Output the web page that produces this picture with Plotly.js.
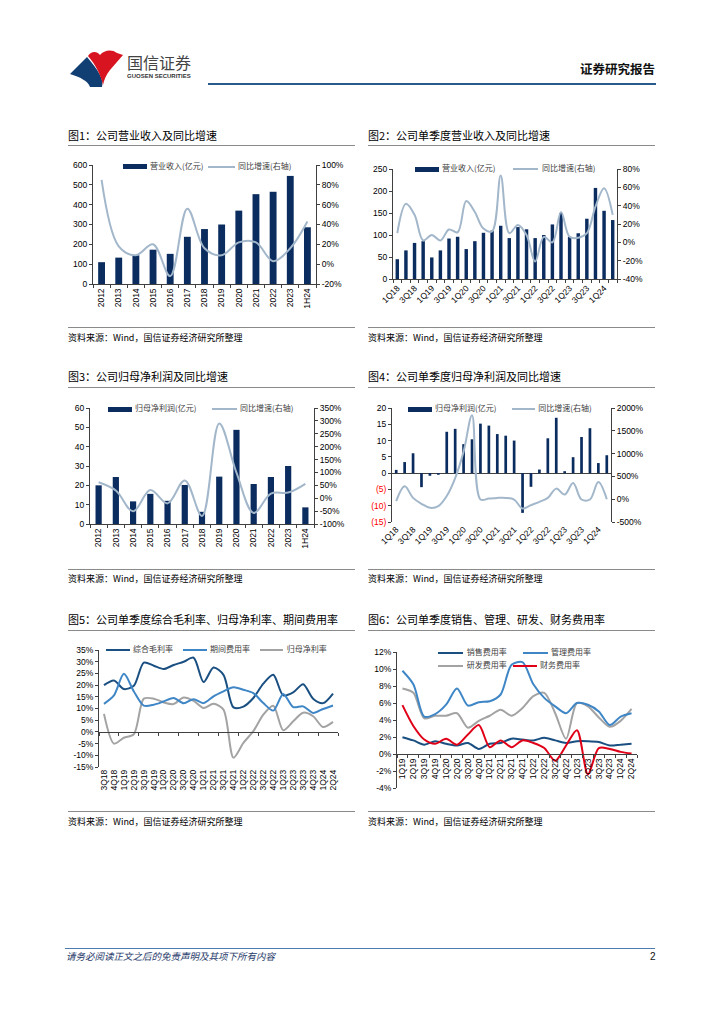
<!DOCTYPE html>
<html><head><meta charset="utf-8">
<script src="https://cdn.plot.ly/plotly-3.0.1.min.js"></script>
<style>
body{margin:0;width:724px;height:1024px;position:relative;background:#fff;font-family:"Noto Sans CJK SC","Noto Sans",sans-serif;overflow:hidden}
.abs{position:absolute;white-space:nowrap;line-height:1}
.hl{position:absolute;height:0}
.chart{position:absolute;width:298px}
</style></head><body>

<svg class="abs" style="left:68px;top:50px" width="58" height="38" viewBox="0 0 58 38">
  <path d="M2,24 L19,7 C24,13 29,19 32,25 C34,29 35,33 34,37 L22,37 C20,31 12,27 2,24 Z" fill="#123f73"/>
  <path d="M20,6 C23,1 29,1 32,5 C36,0 44,-1 49,3 L55,5 L42,20 C38,25 36,30 35,35 C33,26 28,15 20,6 Z" fill="#d7141f"/>
</svg>
<div class="abs" style="left:127px;top:54px;font-size:16px;color:#444">国信证券</div>
<div class="abs" style="left:127px;top:73px;font-size:6px;font-weight:bold;color:#333;font-family:'Liberation Sans',Arial,sans-serif">GUOSEN SECURITIES</div>
<div class="abs" style="left:580px;top:63px;font-size:12.5px;font-weight:bold;color:#111">证券研究报告</div>
<div class="hl" style="left:208px;top:83px;width:448px;border-top:2px solid #285a8c"></div>

<div id="c1" class="chart"></div>
<div id="c2" class="chart"></div>
<div id="c3" class="chart"></div>
<div id="c4" class="chart"></div>
<div id="c5" class="chart"></div>
<div id="c6" class="chart"></div>

<div class="hl" style="left:65px;top:948px;width:590px;border-top:1px solid #4a7ab0"></div>
<div class="abs" style="left:66px;top:952px;font-size:9.5px;font-style:italic;color:#1f3a6a">请务必阅读正文之后的免责声明及其项下所有内容</div>
<div class="abs" style="left:650px;top:952px;font-size:10px;color:#111;font-family:'Liberation Sans',Arial,sans-serif">2</div>

<script>
// ---------- DATA ----------
const c1Years = ['2012','2013','2014','2015','2016','2017','2018','2019','2020','2021','2022','2023','1H24'];
const c1Revenue = [110,133,145,173,152,238,277,300,370,453,465,545,286];
const c1Yoy = [85,18,9,20,-12,56,16,9,22,22,3,16,43];
const c1LeftTicks = [0,100,200,300,400,500,600];
const c1RightTicks = [-20,0,20,40,60,80,100];

const c2Quarters = ['1Q18','2Q18','3Q18','4Q18','1Q19','2Q19','3Q19','4Q19','1Q20','2Q20','3Q20','4Q20','1Q21','2Q21','3Q21','4Q21','1Q22','2Q22','3Q22','4Q22','1Q23','2Q23','3Q23','4Q23','1Q24','2Q24'];
const c2Revenue = [45,65,82,86,49,65,92,96,68,86,105,110,121,93,118,113,93,100,124,150,96,104,137,207,155,134];
const c2Yoy = [10,42,30,2,8,2,14,11,45,33,15,12,73,10,19,8,-21,6,0,33,6,5,10,39,59,30];
const c2AxisLabels = ['1Q18','','3Q18','','1Q19','','3Q19','','1Q20','','3Q20','','1Q21','','3Q21','','1Q22','','3Q22','','1Q23','','3Q23','','1Q24',''];
const c2LeftTicks = [0,50,100,150,200,250];
const c2RightTicks = [-40,-20,0,20,40,60,80];

const c3Years = ['2012','2013','2014','2015','2016','2017','2018','2019','2020','2021','2022','2023','1H24'];
const c3Profit = [20,24.3,11.7,15.6,12,20.2,6.3,24.5,48.7,20.7,24.3,30,8.6];
const c3Yoy = [62,30,-51,32,-20,69,-69,290,99,-57,18,22,56];
const c3LeftTicks = [0,10,20,30,40,50,60];
const c3RightTicks = [-100,-50,0,50,100,150,200,250,300,350];

const c4Quarters = c2Quarters;
const c4Profit = [1.0,3.4,6.1,-4.3,-0.8,-0.5,12.7,13.6,8.9,10.4,15.2,14.6,12.0,11.5,10.0,-12.2,-4.2,1.1,10.7,17.0,0.6,4.9,11.1,13.8,3.1,5.5];
const c4Yoy = [-43,283,29,-100,-188,-152,70,464,1043,1840,-5,14,29,29,-7,-203,-130,-58,29,232,101,355,-7,-7,377,0];
const c4AxisLabels = c2AxisLabels;
const c4LeftTicks = [-15,-10,-5,0,5,10,15,20];
const c4RightTicks = [-500,0,500,1000,1500,2000];

const c5Quarters = ['3Q18','4Q18','1Q19','2Q19','3Q19','4Q19','1Q20','2Q20','3Q20','4Q20','1Q21','2Q21','3Q21','4Q21','1Q22','2Q22','3Q22','4Q22','1Q23','2Q23','3Q23','4Q23','1Q24','2Q24'];
const c5Gross = [20,22,18.3,19.7,29.6,28.3,26.9,28.6,30,31.7,21.3,27.5,24.4,10.5,10.8,14.5,20.6,24.4,15.6,16.9,20.4,14.2,12.3,16.4];
const c5Expense = [12,15.6,24.8,17.3,11.2,11.6,13,14.5,12.2,14,12.3,15.2,17.3,19.1,18,16.6,12.3,9.1,16.2,10.6,10.9,8.1,9.8,11.3];
const c5NetMargin = [7.7,-5,-2.5,-1,14.2,14.2,12.6,11.9,14.7,13.3,10.2,12,9.5,-11,-4.7,0.3,7.4,11.2,0.7,4.5,8.2,6.7,2.1,4.3];
const c5Ticks = [-15,-10,-5,0,5,10,15,20,25,30,35];

const c6Quarters = ['1Q19','2Q19','3Q19','4Q19','1Q20','2Q20','3Q20','4Q20','1Q21','2Q21','3Q21','4Q21','1Q22','2Q22','3Q22','4Q22','1Q23','2Q23','3Q23','4Q23','1Q24','2Q24'];
const c6Selling = [1.98,1.6,1.1,1.5,1.2,1.0,1.3,0.6,1.2,1.3,1.8,1.7,1.6,1.9,1.6,1.3,1.5,1.5,1.4,1.0,1.1,1.2];
const c6Admin = [9.8,8.2,4.4,4.7,5.8,7.7,5.7,6.1,6.2,7.0,10.5,10.8,8.2,6.6,5.6,4.8,6.0,5.8,5.0,3.4,4.4,4.8];
const c6RnD = [7.7,7.2,4.2,4.5,4.5,4.8,3.1,3.9,4.5,5.2,4.5,5.4,6.8,7.2,4.8,1.8,6.0,5.6,4.3,3.2,3.9,5.3];
const c6Finance = [5.75,3.3,1.7,1.2,1.8,1.1,2.3,3.4,0.8,1.6,0.8,1.6,1.3,0.7,-0.8,1.0,2.8,-2.4,0.7,0.6,0.25,0.05];
const c6Ticks = [-4,-2,0,2,4,6,8,10,12];

// ---------- STYLE ----------
const NAVY = '#0b2c5f', YOY = '#a3b7cb';
const DARK = '#1a4f82', MID = '#3f86c6', GRAY = '#a3a3a3', RED = '#e00017';
const TF = 'Liberation Sans, Arial, sans-serif';
const pct = v => String(v) + '%';

function ax(extra){
  return Object.assign({showgrid:false, zeroline:false, showline:true, linecolor:'#404040', linewidth:1,
    ticks:'outside', ticklen:3, tickcolor:'#404040', tickwidth:1,
    tickfont:{family:TF, size:8.5, color:'#000'}, fixedrange:true}, extra);
}
function place(id, bx0, by0, bx1, by1, px0, py0, px1, py1){
  const el = document.getElementById(id);
  el.style.left = bx0 + 'px'; el.style.top = by0 + 'px';
  el.style.width = (bx1 - bx0) + 'px'; el.style.height = (by1 - by0) + 'px';
  return {width: bx1 - bx0, height: by1 - by0,
    margin:{l: px0 - bx0, r: bx1 - px1, t: py0 - by0, b: by1 - py1, pad:0},
    paper_bgcolor:'rgba(0,0,0,0)', plot_bgcolor:'rgba(0,0,0,0)', showlegend:false,
    font:{family:TF, size:8.5, color:'#000'}};
}
const cfg = {staticPlot:true, displayModeBar:false};
function addEl(html){ document.body.insertAdjacentHTML('beforeend', html); }
function hline(x0, x1, y, color, w){ addEl(`<div class="hl" style="left:${x0}px;top:${y}px;width:${x1-x0}px;border-top:${w}px solid ${color}"></div>`); }
function text(x, yc, s, size, extra){ addEl(`<div class="abs" style="left:${x}px;top:${yc - size/2 - 1}px;font-size:${size}px;${extra||''}">${s}</div>`); }
function legBar(x0, x1, yc, c){ addEl(`<div class="abs" style="left:${x0}px;top:${yc-2.5}px;width:${x1-x0}px;height:5px;background:${c}"></div>`); }
function legLine(x0, x1, yc, c){ addEl(`<div class="abs" style="left:${x0}px;top:${yc-1}px;width:${x1-x0}px;height:2px;background:${c}"></div>`); }
function legText(x, yc, s){ text(x, yc, s, 8, 'color:#404040'); }

// ---------- PANEL FRAMES ----------
const panels = [
  {x0:68, x1:355, title:'图1：公司营业收入及同比增速', ty:136.7, tl:145, sl:326.7, sy:338.3},
  {x0:368, x1:655, title:'图2：公司单季度营业收入及同比增速', ty:136.7, tl:145, sl:326.7, sy:338.3},
  {x0:68, x1:355, title:'图3：公司归母净利润及同比增速', ty:377.7, tl:386.7, sl:569, sy:579.3},
  {x0:368, x1:655, title:'图4：公司单季度归母净利润及同比增速', ty:377.7, tl:386.7, sl:569, sy:579.3},
  {x0:68, x1:355, title:'图5：公司单季度综合毛利率、归母净利率、期间费用率', ty:620.7, tl:629.7, sl:811.3, sy:822.3},
  {x0:368, x1:655, title:'图6：公司单季度销售、管理、研发、财务费用率', ty:620.7, tl:629.7, sl:811.3, sy:822.3}
];
panels.forEach(p => {
  text(p.x0, p.ty, p.title, 11, 'color:#000');
  hline(p.x0, p.x1, p.tl, '#8a8a8a', 1.5);
  hline(p.x0, p.x1, p.sl, '#8a8a8a', 1.5);
  text(p.x0, p.sy, '资料来源：Wind，国信证券经济研究所整理', 9, 'color:#000');
});

// ---------- CHART 1 ----------
(function(){
  const L = place('c1', 62, 147, 360, 326, 93.3, 165, 316, 284);
  L.bargap = 0.6;
  L.xaxis = ax({type:'category', tickson:'boundaries', tickangle:-90});
  L.yaxis = ax({range:[0,600], tickvals:c1LeftTicks, ticktext:c1LeftTicks.map(String)});
  L.yaxis2 = ax({range:[-20,100], overlaying:'y', side:'right', tickvals:c1RightTicks, ticktext:c1RightTicks.map(pct)});
  Plotly.newPlot('c1', [
    {type:'bar', x:c1Years, y:c1Revenue, marker:{color:NAVY}, yaxis:'y'},
    {type:'scatter', mode:'lines', x:c1Years, y:c1Yoy, yaxis:'y2', line:{color:YOY, width:2, shape:'spline', smoothing:1}}
  ], L, cfg);
  legBar(123.3, 147.3, 166.7, NAVY); legText(150, 166.7, '营业收入(亿元)');
  legLine(208, 235, 166.7, YOY); legText(238, 166.7, '同比增速(右轴)');
})();

// ---------- CHART 2 ----------
(function(){
  const L = place('c2', 362, 147, 660, 326, 393.3, 169.3, 616.7, 278.7);
  L.bargap = 0.6;
  L.xaxis = ax({type:'category', tickson:'boundaries', tickangle:-45, tickvals:c2Quarters, ticktext:c2AxisLabels});
  L.yaxis = ax({range:[0,250], tickvals:c2LeftTicks, ticktext:c2LeftTicks.map(String)});
  L.yaxis2 = ax({range:[-40,80], overlaying:'y', side:'right', tickvals:c2RightTicks, ticktext:c2RightTicks.map(pct)});
  Plotly.newPlot('c2', [
    {type:'bar', x:c2Quarters, y:c2Revenue, marker:{color:NAVY}, yaxis:'y'},
    {type:'scatter', mode:'lines', x:c2Quarters, y:c2Yoy, yaxis:'y2', line:{color:YOY, width:2, shape:'spline', smoothing:1}}
  ], L, cfg);
  legBar(415, 439.3, 169.3, NAVY); legText(442, 169.3, '营业收入(亿元)');
  legLine(513, 538, 169.3, YOY); legText(542, 169.3, '同比增速(右轴)');
})();

// ---------- CHART 3 ----------
(function(){
  const L = place('c3', 62, 389, 360, 569, 90, 407.7, 314, 524.3);
  L.bargap = 0.64;
  L.xaxis = ax({type:'category', tickson:'boundaries', tickangle:-90});
  L.yaxis = ax({range:[0,60], tickvals:c3LeftTicks, ticktext:c3LeftTicks.map(String)});
  L.yaxis2 = ax({range:[-100,350], overlaying:'y', side:'right', tickvals:c3RightTicks, ticktext:c3RightTicks.map(pct)});
  Plotly.newPlot('c3', [
    {type:'bar', x:c3Years, y:c3Profit, marker:{color:NAVY}, yaxis:'y'},
    {type:'scatter', mode:'lines', x:c3Years, y:c3Yoy, yaxis:'y2', line:{color:YOY, width:2, shape:'spline', smoothing:1}}
  ], L, cfg);
  legBar(108.3, 131.7, 409.3, NAVY); legText(135, 409.3, '归母净利润(亿元)');
  legLine(211.7, 236.7, 409.3, YOY); legText(240, 409.3, '同比增速(右轴)');
})();

// ---------- CHART 4 ----------
(function(){
  const L = place('c4', 362, 389, 660, 569, 391.7, 407.7, 610.7, 522.3);
  L.bargap = 0.68;
  L.xaxis = ax({type:'category', showline:false, ticks:'', tickangle:-45, tickvals:c4Quarters, ticktext:c4AxisLabels});
  L.yaxis = ax({range:[-15,20], tickvals:c4LeftTicks,
    ticktext:c4LeftTicks.map(v => v < 0 ? `<span style="color:#ff0000">(${-v})</span>` : String(v)),
    zeroline:true, zerolinecolor:'#404040', zerolinewidth:1});
  L.yaxis2 = ax({range:[-500,2000], overlaying:'y', side:'right', tickvals:c4RightTicks, ticktext:c4RightTicks.map(pct)});
  Plotly.newPlot('c4', [
    {type:'bar', x:c4Quarters, y:c4Profit, marker:{color:NAVY}, yaxis:'y'},
    {type:'scatter', mode:'lines', x:c4Quarters, y:c4Yoy, yaxis:'y2', line:{color:YOY, width:2, shape:'spline', smoothing:1}}
  ], L, cfg);
  legBar(407.7, 431.7, 409.3, NAVY); legText(435, 409.3, '归母净利润(亿元)');
  legLine(511.7, 535, 409.3, YOY); legText(538.3, 409.3, '同比增速(右轴)');
})();

// ---------- CHART 5 ----------
(function(){
  const n = c5Quarters.length;
  const L = place('c5', 62, 631, 360, 811, 99.3, 649.7, 338, 767.3);
  // zero-line axis with boundary ticks (no labels)
  L.xaxis = ax({type:'category', range:[-0.5, n-0.5], tickson:'boundaries', showticklabels:false,
    anchor:'free', position:0.3});
  // bottom axis carrying the quarter labels
  L.xaxis2 = ax({type:'category', overlaying:'x', anchor:'y', side:'bottom', range:[-0.5, n-0.5],
    showline:false, ticks:'', tickangle:-90, tickvals:c5Quarters, ticktext:c5Quarters});
  L.yaxis = ax({range:[-15,35], tickvals:c5Ticks, ticktext:c5Ticks.map(pct)});
  const ln = c => ({color:c, width:2, shape:'spline', smoothing:0.8});
  Plotly.newPlot('c5', [
    {type:'scatter', mode:'lines', x:c5Quarters, y:c5NetMargin, line:ln(GRAY), xaxis:'x2', yaxis:'y'},
    {type:'scatter', mode:'lines', x:c5Quarters, y:c5Gross, line:ln(DARK), xaxis:'x2', yaxis:'y'},
    {type:'scatter', mode:'lines', x:c5Quarters, y:c5Expense, line:ln(MID), xaxis:'x2', yaxis:'y'},
    {type:'scatter', mode:'lines', x:c5Quarters, y:c5Gross.map(()=>null), xaxis:'x', yaxis:'y', hoverinfo:'skip'}
  ], L, cfg);
  legLine(106, 130, 650.3, DARK); legText(133, 650.3, '综合毛利率');
  legLine(183.3, 206.7, 650.3, MID); legText(210, 650.3, '期间费用率');
  legLine(260, 283.3, 650.3, GRAY); legText(286.7, 650.3, '归母净利率');
})();

// ---------- CHART 6 ----------
(function(){
  const n = c6Quarters.length;
  const L = place('c6', 362, 631, 660, 811, 396.7, 652.3, 636.7, 788);
  L.xaxis = ax({type:'category', range:[-0.5, n-0.5], tickson:'boundaries', tickangle:-90,
    anchor:'free', position:0.25, tickvals:c6Quarters, ticktext:c6Quarters});
  L.yaxis = ax({range:[-4,12], tickvals:c6Ticks, ticktext:c6Ticks.map(pct)});
  const ln = c => ({color:c, width:2, shape:'spline', smoothing:0.8});
  Plotly.newPlot('c6', [
    {type:'scatter', mode:'lines', x:c6Quarters, y:c6RnD, line:ln(GRAY)},
    {type:'scatter', mode:'lines', x:c6Quarters, y:c6Admin, line:ln(MID)},
    {type:'scatter', mode:'lines', x:c6Quarters, y:c6Selling, line:ln(DARK)},
    {type:'scatter', mode:'lines', x:c6Quarters, y:c6Finance, line:ln(RED)}
  ], L, cfg);
  legLine(438.3, 463.3, 653, DARK); legText(466.7, 653, '销售费用率');
  legLine(523.3, 548.3, 653, MID); legText(551, 653, '管理费用率');
  legLine(438.3, 463.3, 666.3, GRAY); legText(466.7, 666.3, '研发费用率');
  legLine(513.3, 536.7, 666.3, RED); legText(540, 666.3, '财务费用率');
})();
</script>
</body></html>
